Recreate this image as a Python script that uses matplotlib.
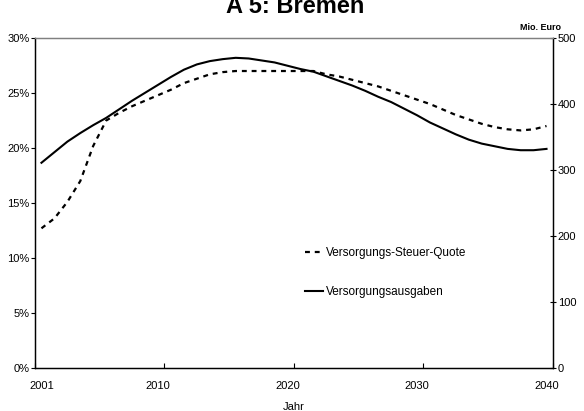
import matplotlib
matplotlib.use("Agg")
import matplotlib.pyplot as plt
from matplotlib.ticker import FuncFormatter, FixedLocator

plt.rcParams['font.family'] = ['Liberation Sans', 'DejaVu Sans']

years = list(range(2001, 2041))
quote_pct = [12.7, 13.6, 15.1, 17.0, 20.2, 22.5, 23.2, 23.8, 24.3, 24.8,
             25.3, 25.9, 26.3, 26.7, 26.9, 27.0, 27.0, 27.0, 27.0, 27.0,
             27.0, 27.0, 26.7, 26.5, 26.2, 25.9, 25.6, 25.2, 24.8, 24.4,
             24.0, 23.5, 23.0, 22.6, 22.2, 21.9, 21.7, 21.6, 21.7, 22.0]
ausgaben = [311, 327, 343, 356, 368, 379, 392, 405, 417, 429,
            441, 452, 460, 465, 468, 470, 469, 466, 463, 458,
            453, 449, 442, 435, 428, 420, 411, 403, 393, 383,
            372, 363, 354, 346, 340, 336, 332, 330, 330, 332]
label_years = [2001, 2010, 2020, 2030, 2040]
left_ticks = [0, 5, 10, 15, 20, 25, 30]
right_ticks = [0, 100, 200, 300, 400, 500]

fig = plt.figure(figsize=(5.84, 4.11), dpi=100)
ax = fig.add_axes([0.0599, 0.1046, 0.8870, 0.8029])
ax2 = ax.twinx()

q = [v / 100 for v in quote_pct]
l1, = ax.plot(years, q, color='black', lw=1.6, linestyle=(0, (2.2, 2.2)),
              label='Versorgungs-Steuer-Quote')
l2, = ax2.plot(years, ausgaben, color='black', lw=1.5, label='Versorgungsausgaben')

ax.set_xlim(2000.5, 2040.5)
ax.set_ylim(0, 0.30)
ax2.set_ylim(0, 500)

ax.yaxis.set_major_locator(FixedLocator([t / 100 for t in left_ticks]))
ax.yaxis.set_major_formatter(FuncFormatter(lambda v, p: f"{round(v*100):d}%"))
ax2.yaxis.set_major_locator(FixedLocator(right_ticks))

ax.xaxis.set_major_locator(FixedLocator([2000.5, 2010.5, 2020.5, 2030.5, 2040.5]))
ax.xaxis.set_major_formatter(FuncFormatter(lambda v, p: ""))
ax.xaxis.set_minor_locator(FixedLocator(label_years))
ax.xaxis.set_minor_formatter(FuncFormatter(lambda v, p: f"{int(v)}"))

ax.tick_params(axis='x', which='major', direction='in', length=3.5, width=0.8)
ax.tick_params(axis='x', which='minor', length=0, pad=9, labelsize=8)
ax.tick_params(axis='y', direction='out', length=3, width=0.8, pad=1, labelsize=8)
ax2.tick_params(axis='y', direction='inout', length=5, width=0.8, pad=1, labelsize=8)

for a in (ax, ax2):
    for s in ('left', 'right', 'bottom'):
        a.spines[s].set_color('black')
        a.spines[s].set_linewidth(0.9)
    a.spines['top'].set_color('#808080')
    a.spines['top'].set_linewidth(0.9)

ax.set_xlabel('Jahr', fontsize=8, labelpad=8)

fig.text(0.505, 0.969, 'A 5: Bremen', ha='center', va='baseline',
         fontsize=17, fontweight='bold')
fig.text(0.96, 0.933, 'Mio. Euro', ha='right', va='center', fontsize=6.5,
         fontweight='bold')

leg = ax.legend(handles=[l1, l2], loc='upper left', bbox_to_anchor=(0.5, 0.40),
                frameon=False, fontsize=8.5, handlelength=1.6, handletextpad=0.2,
                labelspacing=2.3)

fig.savefig('out.png', dpi=100)
